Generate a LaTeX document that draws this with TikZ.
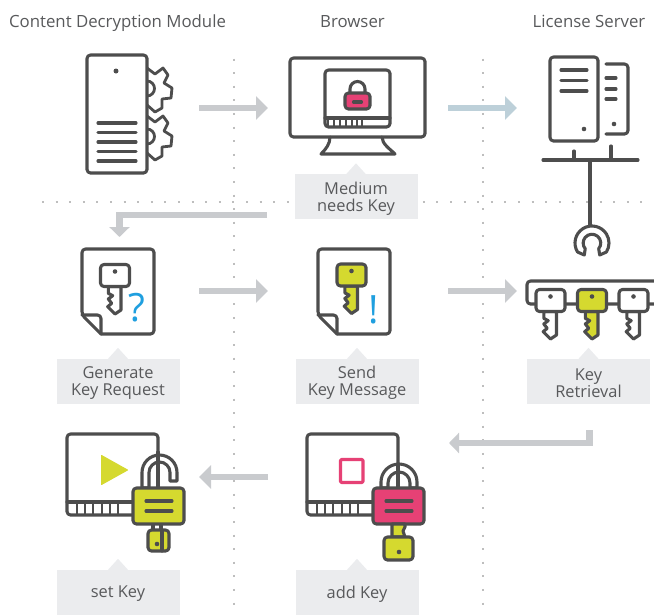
\documentclass[tikz,border=0pt]{standalone}
\usepackage{fontspec}
\setmainfont{Open Sans}
\usetikzlibrary{arrows.meta}
\definecolor{inkc}{HTML}{4D4D4D}
\definecolor{textc}{HTML}{58595B}
\definecolor{flowc}{HTML}{C9CBCE}
\definecolor{bluec}{HTML}{BDD0D9}
\definecolor{pinkc}{HTML}{E64175}
\definecolor{limec}{HTML}{D5D92F}
\definecolor{boxc}{HTML}{EBECEE}
\definecolor{dotc}{HTML}{BEBEBE}
\definecolor{markc}{HTML}{1F9FDF}
\tikzset{
	icon/.style={draw=inkc,line width=3.1pt,line join=round,line cap=round},
	roundbox/.style={icon,rounded corners=3.5pt},
	flow/.style={draw=flowc,line width=6.8pt,-{Triangle[length=12pt,width=23pt]}},
	flowsmall/.style={flow,-{Triangle[length=10pt,width=20pt]}},
	dotline/.style={draw=dotc,line width=2pt,dash pattern=on 2pt off 11.6pt},
	labelbox/.style={fill=boxc,inner sep=0pt,minimum width=123pt,minimum height=45pt},
	steplabel/.style={text=textc,inner sep=0pt,yshift=-2pt,align=center,font=\fontsize{16.4}{17}\selectfont},
	header/.style={text=textc,anchor=base,font=\fontsize{16.8}{18}\selectfont},
	signmark/.style={text=markc,font=\fontsize{39}{39}\selectfont},
}
\newcommand\keyshape[3]{%
	\draw[icon,fill=#3] (#1-6.7,#2+11) -- (#1-6.7,#2+17.8) -- (#1-2.3,#2+20.2) -- (#1-6.7,#2+23.5)
		-- (#1-3.3,#2+27.8) -- (#1-7.3,#2+31.2) -- (#1,#2+38.5) -- (#1+6,#2+34.5) -- (#1+6,#2+11) -- cycle;
	\draw[roundbox,fill=#3] (#1-14.5,#2-11) rectangle (#1+14.5,#2+11);
	\fill[inkc] (#1,#2-4) circle (2.3pt);
}
\newcommand\paper[1]{%
	\draw[roundbox,fill=white] (#1+19,334) -- (#1+72,334) -- (#1+72,249) -- (#1,249) -- (#1,315)
		[sharp corners] -- (#1+19,334);
	\draw[roundbox] (#1,315) -- (#1+19,315) -- (#1+19,334);
}
\newcommand\gearshape[1]{%
	\draw[icon,line width=2.8pt] (147,#1) -- (155,#1+6) -- (163,#1) -- (168,#1+7) -- (164,#1+15) -- (172,#1+20)
		-- (171,#1+30) -- (162,#1+31) -- (162,#1+40) -- (155,#1+44) -- (147,#1+37);
	\draw[icon,line width=2.8pt] (147,#1+13) arc[start angle=90,end angle=-90,radius=7.5pt];
}
\newcommand\playscreen[1]{%
	\draw[roundbox,fill=white] (#1,434) rectangle (#1+91,515);
	\draw[icon] (#1,502) -- (#1+91,502);
	\foreach \t in {10,18,26,35,43,51}
		\draw[icon,line width=2.4pt,line cap=butt] (#1+\t,502) -- (#1+\t,515);
}
\newcommand\lockbody[2]{%
	\draw[roundbox,fill=#2] (#1,488) rectangle (#1+51,524);
	\draw[icon] (#1+13,501) -- (#1+39,501) (#1+13,511) -- (#1+39,511);
}
\begin{document}
\begin{tikzpicture}[x=1pt,y=-1pt,>=stealth]
	\useasboundingbox (0,0) rectangle (654,614);
	\draw[dotline] (234,58.5) -- (234,614);
	\draw[dotline] (483,58.5) -- (483,614);
	\draw[dotline] (42,202) -- (654,202);
	\node[header] (cdm) at (117.5,27) {Content Decryption Module};
	\node[header] (browser) at (352.5,27) {Browser};
	\node[header] (server) at (589,27) {License Server};
	\foreach \n/\x/\y/\t in {needs/356/196.5/{Medium\\needs Key},request/118/381/{Generate\\Key Request},
		message/357/381/{Send\\Key Message},retrieval/588.5/381/{Key\\Retrieval},
		setkey/118/592/{set Key},addkey/357/592/{add Key}}{
		\node[labelbox] (\n) at (\x,\y) {};
		\fill[boxc] (\n.north) ++(-10,0.5) -- ++(10,-11) -- ++(10,11) -- cycle;
		\node[steplabel] (\n text) at (\n.center) {\t};
	}
	\path (199,108) coordinate (a1) (268,108) coordinate (b1)
		(448,108) coordinate (a2) (517,108) coordinate (b2)
		(267,215) coordinate (a3) (119.5,237) coordinate (b3)
		(199,291) coordinate (a4) (268,291) coordinate (b4)
		(448,291) coordinate (a5) (517,291) coordinate (b5)
		(589.5,430) coordinate (a6) (449,443) coordinate (b6)
		(268,477) coordinate (a7) (199,477) coordinate (b7);
	\draw[flow] (a1) -- (b1);
	\draw[flow,draw=bluec] (a2) -- (b2);
	\draw[flowsmall] (a3) -| (b3);
	\draw[flow] (a4) -- (b4);
	\draw[flow] (a5) -- (b5);
	\draw[flowsmall] (a6) |- (b6);
	\draw[flow] (a7) -- (b7);
	% content decryption module
	\gearshape{68}
	\gearshape{116}
	\draw[roundbox,fill=white] (87,55) rectangle (147,173);
	\fill[inkc] (116,71) circle (2.5pt);
	\foreach \y in {123,132.5,142,151.5,161}
		\draw[icon] (98,\y) -- (136,\y);
	% browser
	\draw[roundbox] (290,58) rectangle (425,137);
	\draw[icon] (330,137) .. controls (330,144) and (326,149) .. (321,154) -- (395,154)
		.. controls (390,149) and (382,144) .. (382,137);
	\draw[roundbox] (325,70) rectangle (390,127);
	\draw[icon] (325,118) -- (390,118);
	\foreach \x in {328,334,340,346,352,357,362}
		\draw[icon,line width=2.2pt,line cap=butt] (\x,118) -- (\x,127);
	\draw[icon] (350,93) -- (350,89) arc[start angle=180,end angle=0,radius=7.5pt] -- (365,93);
	\draw[roundbox,fill=pinkc] (345,93) rectangle (370,109);
	\draw[icon] (353.5,102) -- (361.5,102);
	% license server
	\draw[roundbox] (550,57) rectangle (598,141);
	\foreach \y in {70,80.5,91}
		\draw[icon] (561,\y) -- (587,\y);
	\fill[inkc] (584,129) circle (2.3pt);
	\draw[roundbox] (606,64) -- (628,64) -- (628,134) -- (606,134);
	\foreach \y in {78,89,99}
		\draw[icon] (606,\y) -- (616,\y);
	\fill[inkc] (614,124) circle (2.3pt);
	\draw[icon] (543,160) -- (638,160);
	\draw[icon] (574,151) -- (574,160) (611,146) -- (611,160);
	\draw[icon] (590,160) -- (590,226);
	\draw[icon,fill=white] (592,243) ++(212:17pt) arc[start angle=212,end angle=-32,radius=17pt]
		-- (599.7,255) -- (598.7,248.7) arc[start angle=-40,end angle=220,radius=8.8pt] -- (584.3,255) -- cycle;
	% key documents
	\paper{82}
	\keyshape{115}{275.5}{white}
	\node[signmark] (question) at (137,307.5) {?};
	\paper{318}
	\keyshape{351.5}{275}{limec}
	\node[signmark] (exclaim) at (374,309.5) {!};
	% key ring
	\draw[roundbox] (654,281) -- (527,281) -- (527,304) -- (654,304);
	\keyshape{550.5}{300.5}{white}
	\keyshape{592}{300.5}{limec}
	\keyshape{633.5}{300.5}{white}
	% set key
	\playscreen{67}
	\fill[limec,draw=limec,line width=1pt,line join=round] (101.5,455.5) -- (127.5,470) -- (101.5,484.5) -- cycle;
	\draw[icon,fill=white] (142,488) -- (142,472.5) arc[start angle=180,end angle=0,radius=17.5pt] -- (177,481)
		-- (170,481) -- (170,472.5) arc[start angle=0,end angle=180,radius=10.5pt] -- (149,488) -- cycle;
	\draw[icon] (158,452) -- (158,488);
	\draw[icon] (153,524) -- (153,530) (161,524) -- (161,530);
	\draw[roundbox,fill=limec] (148,530) rectangle (169,551);
	\draw[icon] (162,530) -- (162,551);
	\fill[inkc] (157,544) circle (2.3pt);
	\lockbody{133}{limec}
	% add key
	\playscreen{307}
	\draw[icon,draw=pinkc,rounded corners=1pt] (340.5,459.5) rectangle (363,482.5);
	\draw[icon,fill=white] (381,488) -- (381,482) arc[start angle=180,end angle=0,radius=18pt] -- (417,488)
		-- (410,488) -- (410,483) arc[start angle=0,end angle=180,radius=11pt] -- (388,488) -- cycle;
	\draw[icon] (398,464) -- (398,488);
	\lockbody{373}{pinkc}
	\draw[icon,fill=limec] (392,524) -- (392,537) -- (405,537) -- (403,531) -- (405,527) -- (405,524) -- cycle;
	\draw[roundbox,fill=limec] (384,537) rectangle (413,560);
	\fill[inkc] (399,552) circle (2.3pt);
\end{tikzpicture}
\end{document}
